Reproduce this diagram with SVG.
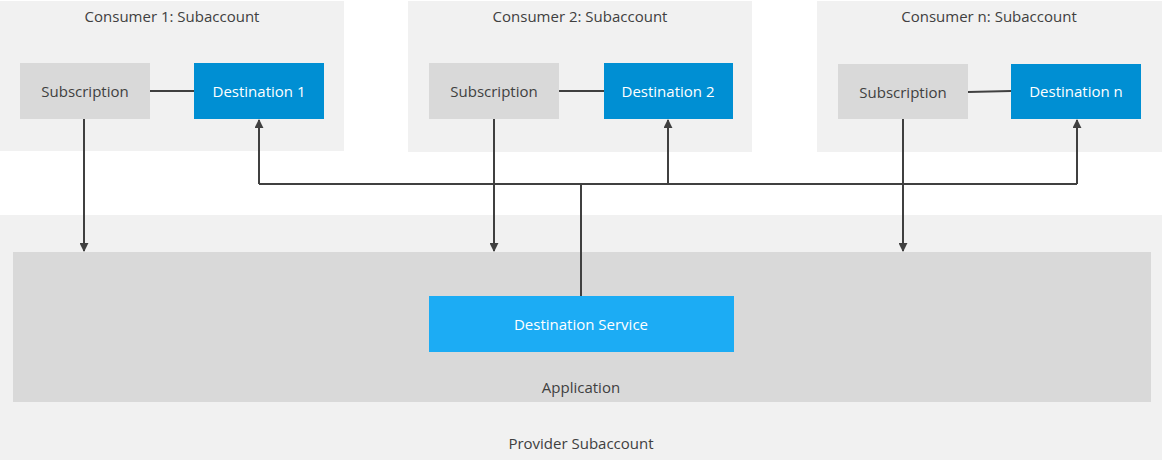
<svg xmlns="http://www.w3.org/2000/svg" width="1162" height="465" viewBox="0 0 1162 465">
<defs>
<style>
.area{fill:#f1f1f1}
.sub{fill:#d9d9d9}
.dest{fill:#008fd3}
.svc{fill:#1cacf4}
.app{fill:#d9d9d9}
text{font-family:"Open Sans","Noto Sans",sans-serif;font-size:15px;text-anchor:middle;dominant-baseline:central}
.dark{fill:#404040}
.light{fill:#ffffff}
.ln{stroke:#404040;stroke-width:2;fill:none}
</style>
<marker id="ah" viewBox="0 0 10 10" refX="9" refY="5" markerWidth="4.5" markerHeight="4.5" orient="auto" markerUnits="strokeWidth">
<path d="M0,0 L10,5 L0,10 z" fill="#404040"/>
</marker>
</defs>
<rect width="1162" height="465" fill="#ffffff"/>
<g id="provider">
<rect class="area" x="0" y="215" width="1162" height="245"/>
<text class="dark" x="581" y="443">Provider Subaccount</text>
</g>
<g id="application">
<rect class="app" x="13" y="252" width="1138" height="150"/>
<text class="dark" x="581" y="387">Application</text>
</g>
<g id="consumer1">
<rect class="area" x="0" y="1" width="344" height="150"/>
<text class="dark" x="172" y="16">Consumer 1: Subaccount</text>
</g>
<g id="consumer2">
<rect class="area" x="408" y="1" width="344" height="151"/>
<text class="dark" x="580" y="16">Consumer 2: Subaccount</text>
</g>
<g id="consumern">
<rect class="area" x="817" y="1" width="345" height="151"/>
<text class="dark" x="989" y="16">Consumer n: Subaccount</text>
</g>
<g id="subscription1">
<rect class="sub" x="20" y="63" width="130" height="56"/>
<text class="dark" x="85" y="91">Subscription</text>
</g>
<g id="destination1">
<rect class="dest" x="194" y="63" width="130" height="56"/>
<text class="light" x="259" y="91">Destination 1</text>
</g>
<g id="subscription2">
<rect class="sub" x="429" y="63" width="130" height="56"/>
<text class="dark" x="494" y="91">Subscription</text>
</g>
<g id="destination2">
<rect class="dest" x="604" y="63" width="129" height="56"/>
<text class="light" x="668" y="91">Destination 2</text>
</g>
<g id="subscriptionn">
<rect class="sub" x="838" y="64" width="130" height="55"/>
<text class="dark" x="903" y="92">Subscription</text>
</g>
<g id="destinationn">
<rect class="dest" x="1011" y="64" width="130" height="55"/>
<text class="light" x="1076" y="91">Destination n</text>
</g>
<g id="destinationService">
<rect class="svc" x="429" y="296" width="305" height="56"/>
<text class="light" x="581" y="324">Destination Service</text>
</g>
<g id="connectors">
<line class="ln" x1="150" y1="91" x2="194" y2="91"/>
<line class="ln" x1="559" y1="91" x2="604" y2="91"/>
<line class="ln" x1="968" y1="92" x2="1011" y2="91"/>
<line class="ln" x1="84" y1="119" x2="84" y2="251" marker-end="url(#ah)"/>
<line class="ln" x1="494" y1="119" x2="494" y2="251" marker-end="url(#ah)"/>
<line class="ln" x1="903" y1="119" x2="903" y2="251" marker-end="url(#ah)"/>
<line class="ln" x1="581" y1="296" x2="581" y2="184"/>
<polyline class="ln" points="259,184 1077,184"/>
<line class="ln" x1="259" y1="184" x2="259" y2="120" marker-end="url(#ah)"/>
<line class="ln" x1="668" y1="184" x2="668" y2="120" marker-end="url(#ah)"/>
<line class="ln" x1="1077" y1="184" x2="1077" y2="120" marker-end="url(#ah)"/>
</g>
</svg>
